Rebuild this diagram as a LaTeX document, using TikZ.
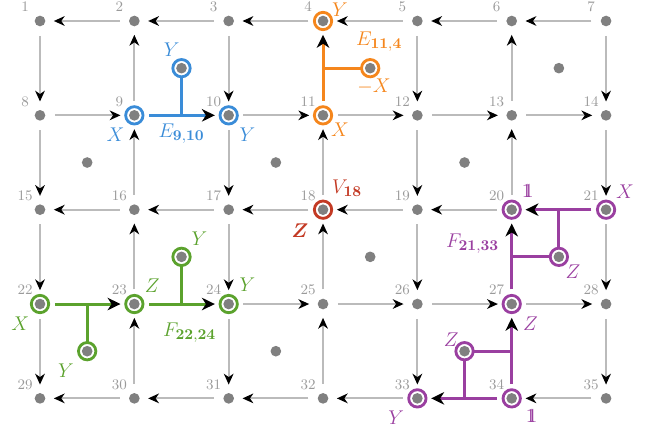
\documentclass[tikz,border=0pt]{standalone}
\usepackage{amsmath}
\usetikzlibrary{arrows.meta}
\IfFileExists{dsfont.sty}{\usepackage{dsfont}\newcommand\idone{\mathds{1}}}{\newcommand\idone{\mathrm{\rlap{1}\kern0.09em1}}}
\definecolor{dotgray}{HTML}{808080}
\definecolor{edgegray}{HTML}{BBBBBB}
\definecolor{numgray}{HTML}{9A9A9A}
\definecolor{cblue}{HTML}{3A8CD8}
\definecolor{corange}{HTML}{F5861C}
\definecolor{cred}{HTML}{C33A24}
\definecolor{cgreen}{HTML}{5BA22D}
\definecolor{cpurple}{HTML}{9A3FA0}
\pgfdeclarelayer{edges}
\pgfdeclarelayer{rings}
\pgfsetlayers{edges,rings,main}
\tikzset{
  vtx/.style={circle, fill=dotgray, minimum size=0.226cm, inner sep=0pt, outer sep=0pt},
  num/.style={text=numgray, font=\fontsize{8.8}{10}\selectfont, inner sep=0pt},
  lab/.style={font=\fontsize{12}{14}\selectfont, inner sep=0pt},
  biglab/.style={font=\fontsize{12.5}{15}\selectfont, inner sep=0pt},
  ge/.style={draw=edgegray, line width=1.2pt, -{Stealth[length=6.5pt,width=5.8pt,inset=2pt,black]}, shorten <=0.2cm, shorten >=0.18cm},
  ce/.style={line width=1.8pt, -{Stealth[length=7.8pt,width=7.5pt,inset=2.4pt,black]}, shorten <=0.2cm, shorten >=0.18cm},
  tl/.style={line width=1.8pt},
  ring/.style={line width=1.7pt, fill=white}
}
\begin{document}
\begin{tikzpicture}
\useasboundingbox (-0.848,0.445) rectangle (13.08,-8.756);
% vertices and numbers
\foreach \r in {0,...,4}{
  \foreach \c in {0,...,6}{
    \pgfmathtruncatemacro\k{7*\r+\c+1}
    \node[vtx] (n\k) at (2*\c,-2*\r) {};
    \node[num] (l\k) at (2*\c-0.318,-2*\r+0.297) {\k};
  }
}
% plain face dots
\node[vtx] (d1) at (11,-1) {};
\node[vtx] (d2) at (1,-3) {};
\node[vtx] (d3) at (5,-3) {};
\node[vtx] (d4) at (9,-3) {};
\node[vtx] (d5) at (7,-5) {};
\node[vtx] (d6) at (5,-7) {};
% ringed face dots
\node[vtx] (f1) at (3,-1) {};
\node[vtx] (f2) at (7,-1) {};
\node[vtx] (g1) at (3,-5) {};
\node[vtx] (g2) at (1,-7) {};
\node[vtx] (p1) at (11,-5) {};
\node[vtx] (p2) at (9,-7) {};

\begin{pgfonlayer}{rings}
\foreach \v/\col in {n9/cblue,n10/cblue,f1/cblue,n4/corange,n11/corange,f2/corange,n18/cred,
  n22/cgreen,n23/cgreen,n24/cgreen,g1/cgreen,g2/cgreen,
  n20/cpurple,n21/cpurple,n27/cpurple,n33/cpurple,n34/cpurple,p1/cpurple,p2/cpurple}{
  \draw[ring, draw=\col] (\v) circle (0.184cm);
}
\end{pgfonlayer}

\begin{pgfonlayer}{edges}
\foreach \a/\b in {2/1,3/2,4/3,5/4,6/5,7/6,
  1/8,9/2,3/10,5/12,13/6,7/14,
  8/9,10/11,11/12,12/13,13/14,
  8/15,16/9,10/17,18/11,12/19,20/13,14/21,
  16/15,17/16,18/17,19/18,20/19,
  15/22,23/16,17/24,25/18,19/26,21/28,
  24/25,25/26,26/27,27/28,
  22/29,30/23,24/31,32/25,26/33,28/35,
  30/29,31/30,32/31,33/32,35/34}{
  \draw[ge] (n\a) -- (n\b);
}
% blue
\draw[ce, draw=cblue] (n9) -- (n10);
\draw[tl, draw=cblue] (f1) -- (f1 |- n9);
% orange
\draw[ce, draw=corange] (n11) -- (n4);
\draw[tl, draw=corange] (f2) -- (n4 |- f2);
% green
\draw[ce, draw=cgreen] (n22) -- (n23);
\draw[ce, draw=cgreen] (n23) -- (n24);
\draw[tl, draw=cgreen] (g1) -- (g1 |- n23);
\draw[tl, draw=cgreen] (g2) -- (g2 |- n22);
% purple
\draw[ce, draw=cpurple] (n21) -- (n20);
\draw[ce, draw=cpurple] (n27) -- (n20);
\draw[ce, draw=cpurple] (n34) -- (n27);
\draw[ce, draw=cpurple] (n34) -- (n33);
\draw[tl, draw=cpurple] (p1) -- (p1 |- n21);
\draw[tl, draw=cpurple] (p1) -- (n20 |- p1);
\draw[tl, draw=cpurple] (p2) -- (n27 |- p2);
\draw[tl, draw=cpurple] (p2) -- (p2 |- n33);
\end{pgfonlayer}

% labels blue
\node[lab, text=cblue] (tb1) at ([shift={(-0.40,-0.40)}]n9) {$X$};
\node[lab, text=cblue] (tb2) at ([shift={(0.40,-0.42)}]n10) {$Y$};
\node[lab, text=cblue] (tb3) at ([shift={(-0.21,0.40)}]f1) {$Y$};
\node[biglab, text=cblue] (tb4) at ([shift={(0,-0.39)}]f1 |- n9) {$E_{\mathbf{9,10}}$};
% orange
\node[lab, text=corange] (to1) at ([shift={(0.36,0.23)}]n4) {$Y$};
\node[lab, text=corange] (to2) at ([shift={(0.36,-0.30)}]n11) {$X$};
\node[lab, text=corange] (to3) at ([shift={(0.08,-0.38)}]f2) {$-X$};
\node[biglab, text=corange] (to4) at ([shift={(0.19,0.57)}]f2) {$E_{\mathbf{11,4}}$};
% red
\node[biglab, text=cred] (tr1) at ([shift={(0.51,0.45)}]n18) {$V_{\mathbf{18}}$};
\node[lab, text=cred] (tr2) at ([shift={(-0.49,-0.45)}]n18) {$\boldsymbol{Z}$};
% green
\node[lab, text=cgreen] (tg1) at ([shift={(-0.42,-0.42)}]n22) {$X$};
\node[lab, text=cgreen] (tg2) at ([shift={(0.38,0.38)}]n23) {$Z$};
\node[lab, text=cgreen] (tg3) at ([shift={(0.40,0.40)}]n24) {$Y$};
\node[lab, text=cgreen] (tg4) at ([shift={(0.38,0.38)}]g1) {$Y$};
\node[lab, text=cgreen] (tg5) at ([shift={(-0.45,-0.42)}]g2) {$Y$};
\node[biglab, text=cgreen] (tg6) at ([shift={(0.17,-0.60)}]g1 |- n23) {$F_{\mathbf{22,24}}$};
% purple
\node[lab, text=cpurple] (tp1) at ([shift={(0.34,0.40)}]n20) {$\idone$};
\node[lab, text=cpurple] (tp2) at ([shift={(0.40,0.38)}]n21) {$X$};
\node[lab, text=cpurple] (tp3) at ([shift={(0.30,-0.32)}]p1) {$Z$};
\node[biglab, text=cpurple] (tp4) at ([shift={(-0.83,-0.72)}]n20) {$F_{\mathbf{21,33}}$};
\node[lab, text=cpurple] (tp5) at ([shift={(0.40,-0.42)}]n27) {$Z$};
\node[lab, text=cpurple] (tp6) at ([shift={(-0.28,0.25)}]p2) {$Z$};
\node[lab, text=cpurple] (tp7) at ([shift={(0.42,-0.38)}]n34) {$\idone$};
\node[lab, text=cpurple] (tp8) at ([shift={(-0.45,-0.42)}]n33) {$Y$};
\end{tikzpicture}
\end{document}
